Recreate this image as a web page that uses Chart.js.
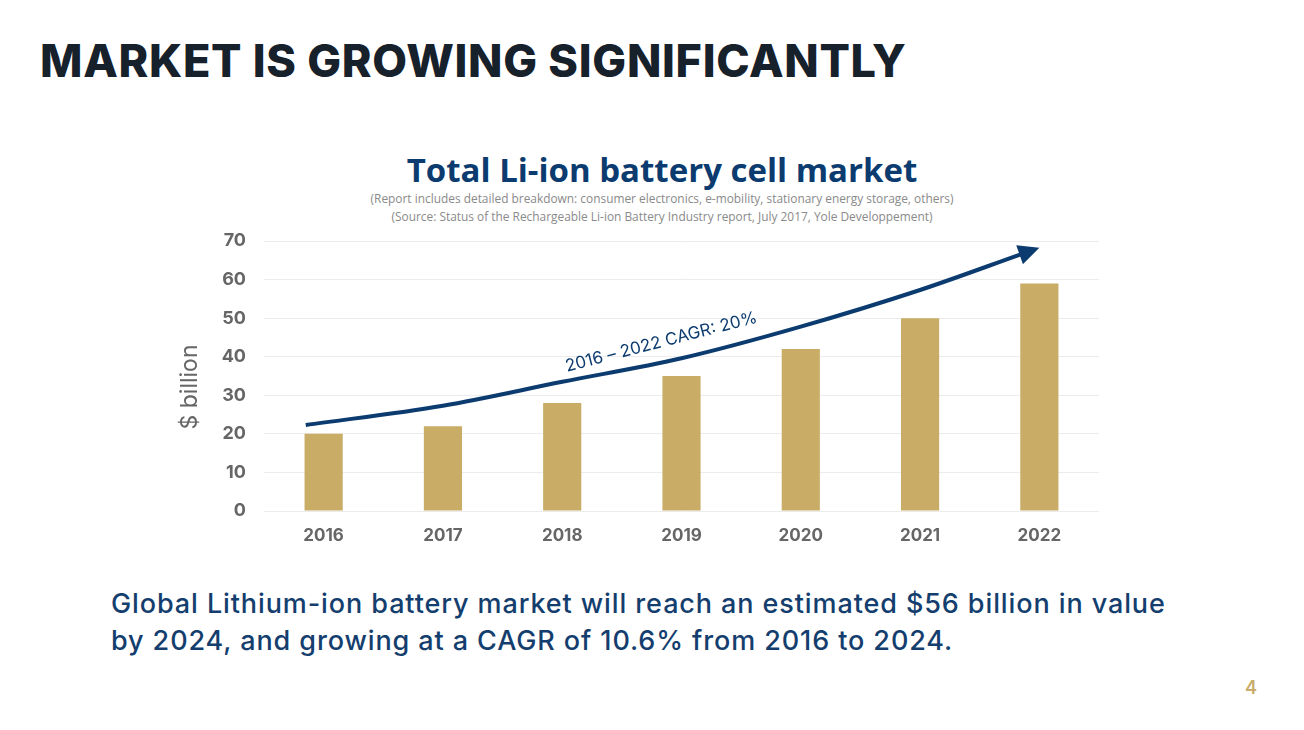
<!DOCTYPE html>
<html>
<head>
<meta charset="utf-8">
<script src="https://cdn.jsdelivr.net/npm/chart.js@4.4.0/dist/chart.umd.min.js"></script>
<style>
    body { margin: 0; width: 1304px; height: 730px; background: #fff; position: relative; overflow: hidden; font-family: Inter, sans-serif; }
    #slide-title { position: absolute; left: 40px; top: 38px; font-size: 45px; line-height: 1; font-weight: 800; letter-spacing: 0.7px; color: #17212b; white-space: nowrap; }
    #chart-title { position: absolute; left: 0; width: 1324px; top: 153px; text-align: center; font-family: "Open Sans", sans-serif; font-weight: 700; font-size: 33px; line-height: 1; color: #0b3b6f; }
    .sub { position: absolute; left: 0; width: 1324px; text-align: center; font-family: "Open Sans", sans-serif; font-size: 11.9px; line-height: 1; color: #8a8a8a; }
    #chart-box { position: absolute; left: 160px; top: 140px; width: 960px; height: 420px; }
    #nota { position: absolute; left: 111px; top: 585px; font-size: 27px; line-height: 37px; font-weight: 500; letter-spacing: 0.9px; color: #143e6e; white-space: nowrap; }
    #pagina { position: absolute; left: 1245px; top: 677px; font-size: 18px; font-weight: 600; color: #c9ad6a; }
</style>
</head>
<body>
<div id="slide-title">MARKET IS GROWING SIGNIFICANTLY</div>
<div id="chart-title">Total Li-ion battery cell market</div>
<div class="sub" style="top:193px">(Report includes detailed breakdown: consumer electronics, e-mobility, stationary energy storage, others)</div>
<div class="sub" style="top:211px">(Source: Status of the Rechargeable Li-ion Battery Industry report, July 2017, Yole Developpement)</div>
<div id="chart-box"><canvas id="grafico"></canvas></div>
<div id="nota">Global Lithium-ion battery market will reach an estimated $56 billion in value<br>by 2024, and growing at a CAGR of 10.6% from 2016 to 2024.</div>
<div id="pagina">4</div>

<script>
const anos = ['2016', '2017', '2018', '2019', '2020', '2021', '2022'];
const mercado = [20, 22, 28, 35, 42, 50, 59];
const ticksY = [0, 10, 20, 30, 40, 50, 60, 70];
const tituloY = '$ billion';

// seta de tendencia (posicao em indice de categoria, valor em $ bilhoes)
const setaX = [-0.15, 1, 2, 3, 4, 5, 5.85];
const setaY = [22.3, 27.3, 33.5, 39.6, 47.8, 57.3, 66.6];
const textoCagr = '2016 – 2022 CAGR: 20%';
const posCagr = { x: 2.83, y: 43.8 };

const corBarra = '#c9ad67';
const corAzul = '#0b3b6f';

Chart.defaults.font.family = 'Inter, sans-serif';

// desenha a ponta da seta, o texto do CAGR e o titulo do eixo Y
const setaPlugin = {
    id: 'seta',
    afterDatasetsDraw(chart) {
        const ctx = chart.ctx;
        const meta = chart.getDatasetMeta(1);
        const pts = meta.data;
        const ult = pts[pts.length - 1];
        let px = ult.cp1x, py = ult.cp1y;
        if (px === undefined || (px === ult.x && py === ult.y)) {
            px = pts[pts.length - 2].x;
            py = pts[pts.length - 2].y;
        }
        let dx = ult.x - px, dy = ult.y - py;
        const len = Math.sqrt(dx * dx + dy * dy);
        dx /= len; dy /= len;
        ctx.save();
        ctx.fillStyle = corAzul;
        ctx.beginPath();
        ctx.moveTo(ult.x + dx * 19, ult.y + dy * 19);
        ctx.lineTo(ult.x - dx * 2 - dy * 10, ult.y - dy * 2 + dx * 10);
        ctx.lineTo(ult.x - dx * 2 + dy * 10, ult.y - dy * 2 - dx * 10);
        ctx.closePath();
        ctx.fill();
        ctx.restore();

        const xs = chart.scales.xa, ys = chart.scales.y;
        ctx.save();
        ctx.translate(xs.getPixelForValue(posCagr.x), ys.getPixelForValue(posCagr.y));
        ctx.rotate(-14.5 * Math.PI / 180);
        ctx.font = '400 17px Inter, sans-serif';
        ctx.fillStyle = corAzul;
        ctx.textAlign = 'center';
        ctx.textBaseline = 'middle';
        ctx.fillText(textoCagr, 0, 0);
        ctx.restore();

        const area = chart.chartArea;
        ctx.save();
        ctx.translate(area.left - 74, (area.top + area.bottom) / 2 + 11);
        ctx.rotate(-Math.PI / 2);
        ctx.font = '400 23px Inter, sans-serif';
        ctx.fillStyle = '#666';
        ctx.textAlign = 'center';
        ctx.textBaseline = 'middle';
        ctx.fillText(tituloY, 0, 0);
        ctx.restore();
    }
};

const ctx = document.getElementById('grafico').getContext('2d');
const grafico = new Chart(ctx, {
    type: 'bar',
    data: {
        labels: anos,
        datasets: [{
            label: 'Mercado',
            data: mercado,
            backgroundColor: corBarra,
            borderWidth: 0,
            grouped: false,
            barPercentage: 0.32,
            categoryPercentage: 1,
            order: 2
        }, {
            type: 'line',
            label: 'CAGR',
            xAxisID: 'xa',
            data: setaX.map((x, i) => ({ x: x, y: setaY[i] })),
            borderColor: corAzul,
            borderWidth: 4,
            pointRadius: 0,
            cubicInterpolationMode: 'monotone',
            fill: false,
            order: 1
        }]
    },
    options: {
        responsive: true,
        maintainAspectRatio: false,
        animation: false,
        layout: { padding: { top: 101, right: 21, bottom: 0, left: 0 } },
        plugins: {
            legend: { display: false },
            tooltip: { enabled: false }
        },
        scales: {
            x: {
                grid: { display: false },
                border: { display: false },
                ticks: { color: '#666', font: { size: 17, weight: '700' }, padding: 7 },
                afterFit: function (scale) { scale.height = 49; }
            },
            xa: {
                type: 'linear',
                display: false,
                offset: false,
                grid: { offset: false },
                min: -0.5,
                max: anos.length - 0.5
            },
            y: {
                min: 0,
                max: 70,
                afterBuildTicks: function (scale) {
                    scale.ticks = ticksY.map(v => ({ value: v }));
                },
                grid: { color: '#ececec', lineWidth: 1, drawTicks: false },
                border: { display: false },
                ticks: { color: '#666', font: { size: 18, weight: '700' }, padding: 18 },
                afterFit: function (scale) { scale.width = 104; }
            }
        }
    },
    plugins: [setaPlugin]
});
</script>
</body>
</html>
